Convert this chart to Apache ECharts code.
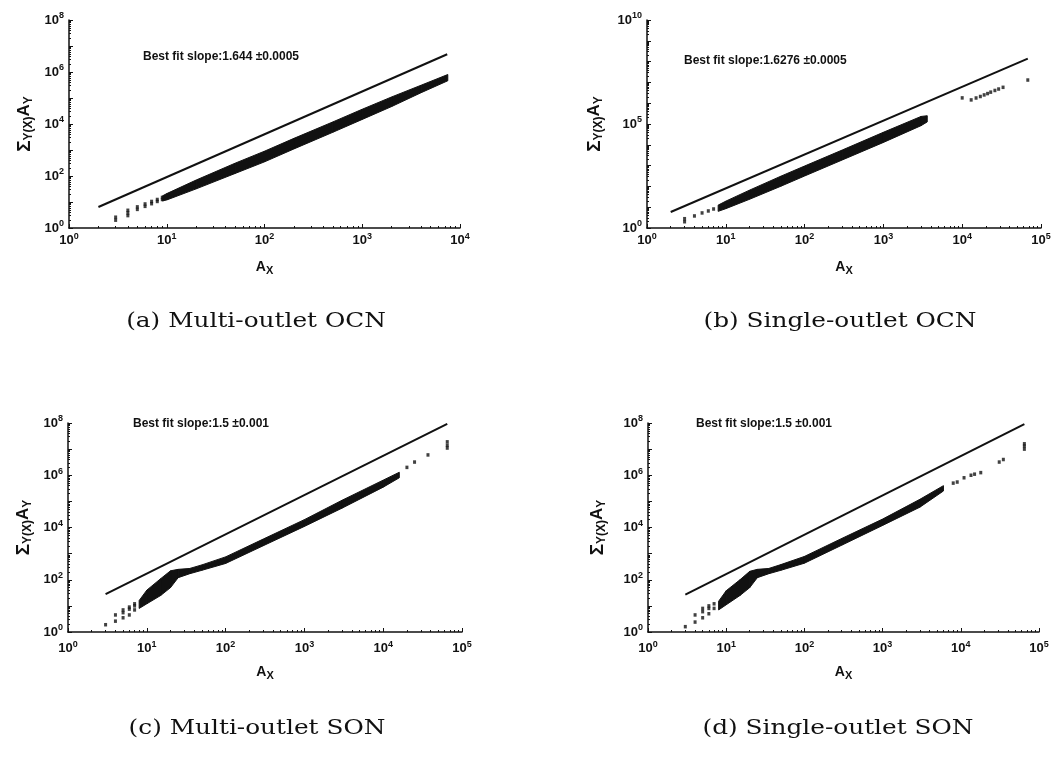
<!DOCTYPE html>
<html>
<head>
<meta charset="utf-8">
<script src="https://cdn.jsdelivr.net/npm/echarts@6/dist/echarts.min.js"></script>
<style>
  html, body { margin: 0; padding: 0; background: #fff; }
  #chart { width: 1062px; height: 757px; }
</style>
</head>
<body>
<div id="chart"></div>
<script>
// (a) Multi-outlet OCN
var fitA_a = [2, 7400];
var fitY_a = [6.4, 4.8e6];
var dotA_a = [3, 3, 4, 4, 4, 5, 5, 6, 6, 7, 7, 8, 8, 9, 9];
var dotY_a = [2.0, 2.6, 3.0, 3.8, 4.8, 5.2, 6.5, 6.8, 8.4, 8.6, 10.5, 10.5, 12.5, 12.5, 15];
var bandA_a = [9, 10, 20, 50, 100, 200, 500, 1000, 2000, 4000, 7500];
var bandLo_a = [11, 12, 32, 125, 350, 1100, 4800, 15000, 47000, 160000, 4.6e5];
var bandHi_a = [17, 21, 70, 310, 900, 2800, 12000, 37000, 110000, 310000, 8.0e5];

// (b) Single-outlet OCN
var fitA_b = [2, 68000];
var fitY_b = [5.9, 1.4e8];
var dotA_b = [3, 3, 4, 5, 6, 7, 10000, 13000, 15000, 17000, 19000, 21000, 23000, 26000, 29000, 33000, 68000];
var dotY_b = [2.0, 2.8, 3.8, 5.3, 6.6, 8.2, 1.8e6, 1.44e6, 1.78e6, 2.1e6, 2.5e6, 2.9e6, 3.4e6, 4.1e6, 4.8e6, 5.8e6, 1.3e7];
var bandA_b = [8, 10, 20, 50, 100, 300, 1000, 3000, 3600];
var bandLo_b = [6.3, 8.5, 24, 102, 316, 1860, 13000, 83000, 126000];
var bandHi_b = [12.6, 19.5, 66, 310, 955, 5600, 40000, 230000, 250000];

// (c) Multi-outlet SON
var fitA_c = [3, 65000];
var fitY_c = [28, 9.2e7];
var dotA_c = [3, 4, 4, 5, 5, 5, 6, 6, 6, 7, 7, 7, 20000, 25000, 37000, 65000, 65000, 65000];
var dotY_c = [1.9, 2.6, 4.5, 3.5, 5.5, 7, 4.5, 7.5, 9, 7, 10, 12, 2.0e6, 3.2e6, 6.0e6, 1.1e7, 1.4e7, 1.9e7];
var bandA_c = [8, 10, 15, 20, 25, 35, 50, 100, 300, 1000, 3000, 10000, 16000];
var bandLo_c = [8, 12, 25, 50, 120, 170, 230, 420, 2000, 11000, 55000, 350000, 8e5];
var bandHi_c = [16, 40, 110, 220, 250, 270, 370, 750, 3600, 20000, 110000, 650000, 1.3e6];

// (d) Single-outlet SON
var fitA_d = [3, 65000];
var fitY_d = [27, 9.0e7];
var dotA_d = [3, 4, 4, 5, 5, 5, 6, 6, 6, 7, 7, 8000, 9000, 11000, 13500, 15000, 18000, 31000, 35000, 65000, 65000, 65000];
var dotY_d = [1.6, 2.4, 4.5, 3.5, 6, 8, 5, 8, 10, 8, 12, 5.0e5, 5.5e5, 8.0e5, 1.0e6, 1.1e6, 1.26e6, 3.2e6, 4.0e6, 1.0e7, 1.3e7, 1.6e7];
var bandA_d = [8, 10, 15, 20, 25, 35, 50, 100, 300, 1000, 3000, 6000];
var bandLo_d = [7, 11, 25, 50, 120, 170, 230, 430, 2100, 12000, 60000, 2.5e5];
var bandHi_d = [15, 38, 100, 210, 250, 270, 380, 780, 3800, 21000, 120000, 4e5];

var slopeText = ['Best fit slope:1.644 \u00b10.0005', 'Best fit slope:1.6276 \u00b10.0005',
                 'Best fit slope:1.5 \u00b10.001', 'Best fit slope:1.5 \u00b10.001'];
var captions = ['(a) Multi-outlet OCN', '(b) Single-outlet OCN', '(c) Multi-outlet SON', '(d) Single-outlet SON'];
var xMax = [1e4, 1e5, 1e5, 1e5];
var yMax = [1e8, 1e10, 1e8, 1e8];
var yLabelStep = [2, 5, 2, 2];

var INK = '#111';
var SANS = '"Liberation Sans", Arial, sans-serif';

function zip(a, b) {
  return a.map(function (v, i) { return [v, b[i]]; });
}
function zip3(a, b, c) {
  return a.map(function (v, i) { return [v, b[i], c[i]]; });
}

// filled strip between the low and high edge of the dense cloud
function renderBand(params, api) {
  var i = params.dataIndexInside;
  if (i >= params.dataInsideLength - 1) return null;
  var p1 = api.coord([api.value(0, i), api.value(1, i)]);
  var p2 = api.coord([api.value(0, i + 1), api.value(1, i + 1)]);
  var p3 = api.coord([api.value(0, i + 1), api.value(2, i + 1)]);
  var p4 = api.coord([api.value(0, i), api.value(2, i)]);
  return {
    type: 'polygon',
    shape: { points: [p1, p2, p3, p4] },
    style: { fill: INK, stroke: INK, lineWidth: 1 }
  };
}

var tickRich = function (size) {
  return {
    b: { fontSize: size, fontWeight: 'bold', fontFamily: SANS, color: INK },
    s: { fontSize: size - 4, fontWeight: 'bold', fontFamily: SANS, color: INK, padding: [0, 0, 8, 0] }
  };
};

function logFmt(step) {
  return function (v) {
    var e = Math.round(Math.log10(v));
    if (e % step !== 0) return '';
    return '{b|10}{s|' + e + '}';
  };
}

var grids = [
  { left: 69, top: 20, width: 391, height: 208 },
  { left: 647, top: 20, width: 394, height: 208 },
  { left: 68, top: 423, width: 394, height: 209 },
  { left: 648, top: 423, width: 391, height: 209 }
];
var yNameGap = [34, 42, 34, 40];
var xNameGap = [30, 30, 31, 31];
var labelSize = [13, 13, 13, 13];
var xLabelMargin = [4, 4, 8, 8];

var xAxes = [], yAxes = [];
for (var g = 0; g < 4; g++) {
  var axisCommon = {
    type: 'log',
    logBase: 10,
    gridIndex: g,
    min: 1,
    axisLine: { lineStyle: { color: INK, width: 1.5 } },
    axisTick: { inside: true, length: 4, lineStyle: { color: INK, width: 1 } },
    minorTick: { show: true, splitNumber: 9, length: 2, lineStyle: { color: INK } },
    splitLine: { show: false }
  };
  xAxes.push(Object.assign({}, axisCommon, {
    max: xMax[g],
    interval: 1,
    axisLabel: { formatter: logFmt(1), rich: tickRich(labelSize[g]), margin: xLabelMargin[g] },
    name: '{a|A}{sub|X}',
    nameLocation: 'middle',
    nameGap: xNameGap[g],
    nameTextStyle: {
      rich: {
        a: { fontSize: 14, fontWeight: 'bold', fontFamily: SANS, color: INK },
        sub: { fontSize: 11, fontWeight: 'bold', fontFamily: SANS, color: INK, padding: [7, 0, 0, 0] }
      }
    }
  }));
  yAxes.push(Object.assign({}, axisCommon, {
    max: yMax[g],
    interval: 1,
    axisLabel: { formatter: logFmt(yLabelStep[g]), rich: tickRich(labelSize[g]), margin: 5 },
    name: '{s|\u03a3}{sub|Y(X)}{a|A}{sub|Y}',
    nameLocation: 'middle',
    nameRotate: 90,
    nameGap: yNameGap[g],
    nameTextStyle: {
      rich: {
        s: { fontSize: 19, fontWeight: 'bold', fontFamily: SANS, color: INK },
        a: { fontSize: 17, fontWeight: 'bold', fontFamily: SANS, color: INK },
        sub: { fontSize: 12, fontWeight: 'bold', fontFamily: SANS, color: INK, padding: [9, 0, 0, 0] }
      }
    }
  }));
}

var panels = [
  { fit: zip(fitA_a, fitY_a), dots: zip(dotA_a, dotY_a), band: zip3(bandA_a, bandLo_a, bandHi_a) },
  { fit: zip(fitA_b, fitY_b), dots: zip(dotA_b, dotY_b), band: zip3(bandA_b, bandLo_b, bandHi_b) },
  { fit: zip(fitA_c, fitY_c), dots: zip(dotA_c, dotY_c), band: zip3(bandA_c, bandLo_c, bandHi_c) },
  { fit: zip(fitA_d, fitY_d), dots: zip(dotA_d, dotY_d), band: zip3(bandA_d, bandLo_d, bandHi_d) }
];

var series = [];
panels.forEach(function (p, g) {
  series.push({
    type: 'line', xAxisIndex: g, yAxisIndex: g, data: p.fit,
    symbol: 'none', silent: true, animation: false,
    lineStyle: { color: INK, width: 2 }
  });
  series.push({
    type: 'custom', xAxisIndex: g, yAxisIndex: g, data: p.band,
    encode: { x: 0, y: [1, 2] }, renderItem: renderBand, silent: true, animation: false
  });
  series.push({
    type: 'scatter', xAxisIndex: g, yAxisIndex: g, data: p.dots,
    symbol: 'rect', symbolSize: [3, 3.5], itemStyle: { color: INK }, silent: true, animation: false
  });
});

var slopePos = [[143, 57], [684, 61], [133, 424], [696, 424]];
var capPos = [[256, 322], [840, 322], [257, 729], [838, 729]];
var graphics = [];
for (var k = 0; k < 4; k++) {
  graphics.push({
    type: 'text', x: slopePos[k][0], y: slopePos[k][1],
    style: { text: slopeText[k], font: 'bold 12px ' + SANS, fill: INK, textAlign: 'left', textVerticalAlign: 'middle' }
  });
  graphics.push({
    type: 'text', x: capPos[k][0], y: capPos[k][1], scaleX: 1.18,
    style: { text: captions[k], font: '21px "DejaVu Serif", serif', fill: INK, textAlign: 'center', textVerticalAlign: 'middle' }
  });
}

var chart = echarts.init(document.getElementById('chart'));
chart.setOption({
  backgroundColor: '#fff',
  animation: false,
  grid: grids,
  xAxis: xAxes,
  yAxis: yAxes,
  series: series,
  graphic: graphics
});
</script>
</body>
</html>
